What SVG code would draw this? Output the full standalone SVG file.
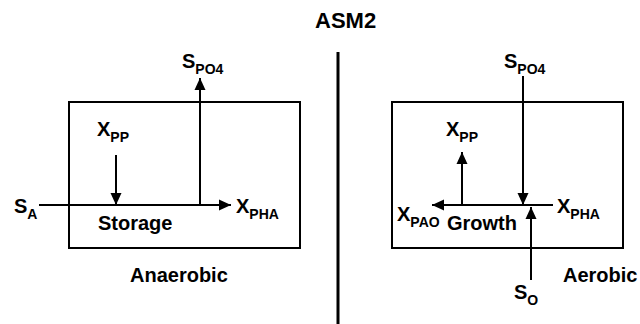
<svg xmlns="http://www.w3.org/2000/svg" width="640" height="324" viewBox="0 0 640 324">
<style>
text{font-family:"Liberation Sans",Arial,sans-serif;font-weight:bold;fill:#000}
.lbl{font-size:20px}
.sub{font-size:14px}
.big{font-size:20px}
.box{fill:none;stroke:#000;stroke-width:2}
.ln{fill:none;stroke:#000;stroke-width:2}
</style>
<defs>
<marker id="ah" markerUnits="userSpaceOnUse" markerWidth="13" markerHeight="12" refX="12" refY="6" orient="auto">
<path d="M0,0.5 L12,6 L0,11.5 z" fill="#000"/>
</marker>
</defs>
<rect width="640" height="324" fill="#fff"/>
<g id="title"><text x="315" y="28" style="font-size:22px">ASM2</text></g>
<line x1="338" y1="52" x2="338" y2="324" stroke="#000" stroke-width="3"/>
<g id="anaerobic">
<rect class="box" x="69" y="102" width="231" height="146"/>
<text class="big" x="130" y="282">Anaerobic</text>
</g>
<g id="aerobic">
<rect class="box" x="392" y="102" width="231" height="146"/>
<text class="big" x="563" y="282">Aerobic</text>
</g>
<g id="storage"><text class="big" x="98" y="230">Storage</text></g>
<g id="growth"><text class="big" x="447" y="230">Growth</text></g>
<g id="SA"><text class="lbl" x="14" y="213">S<tspan class="sub" dy="6">A</tspan></text></g>
<g id="XPP1"><text class="lbl" x="97" y="136">X<tspan class="sub" dy="6">PP</tspan></text></g>
<g id="SPO4_1"><text class="lbl" x="182" y="68">S<tspan class="sub" dy="6">PO4</tspan></text></g>
<g id="XPHA1"><text class="lbl" x="236" y="213">X<tspan class="sub" dy="6">PHA</tspan></text></g>
<g id="SPO4_2"><text class="lbl" x="504" y="68">S<tspan class="sub" dy="6">PO4</tspan></text></g>
<g id="XPP2"><text class="lbl" x="446" y="136">X<tspan class="sub" dy="6">PP</tspan></text></g>
<g id="XPHA2"><text class="lbl" x="557" y="213">X<tspan class="sub" dy="6">PHA</tspan></text></g>
<g id="XPAO"><text class="lbl" x="397" y="221">X<tspan class="sub" dy="6">PAO</tspan></text></g>
<g id="SO"><text class="lbl" x="514" y="299">S<tspan class="sub" dy="6">O</tspan></text></g>
<g id="connectors">
<line class="ln" x1="39" y1="205" x2="231" y2="205" marker-end="url(#ah)"/>
<line class="ln" x1="116" y1="155" x2="116" y2="205" marker-end="url(#ah)"/>
<line class="ln" x1="200" y1="205" x2="200" y2="78" marker-end="url(#ah)"/>
<line class="ln" x1="523" y1="76" x2="523" y2="205" marker-end="url(#ah)"/>
<line class="ln" x1="553" y1="205" x2="432" y2="205" marker-end="url(#ah)"/>
<line class="ln" x1="462" y1="205" x2="462" y2="152" marker-end="url(#ah)"/>
<line class="ln" x1="531" y1="280" x2="531" y2="207" marker-end="url(#ah)"/>
</g>
</svg>
